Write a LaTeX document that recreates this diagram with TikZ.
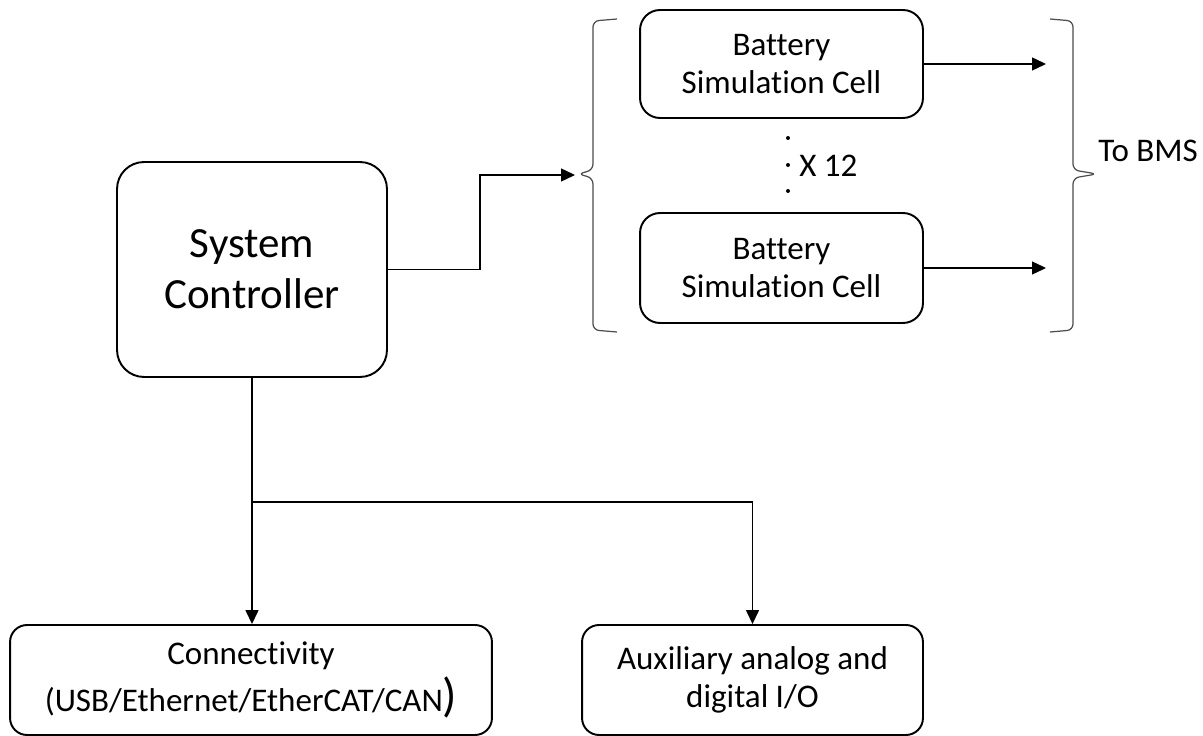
\documentclass[tikz,border=0pt]{standalone}
\usepackage{fontspec}
\setmainfont{Carlito}[Ligatures={NoCommon}]
\usetikzlibrary{arrows.meta}
\newcommand{\ctrlfont}{\fontsize{24.5}{29}\selectfont}
\newcommand{\cellfont}{\fontsize{18.8}{21.6}\selectfont}
\newcommand{\dotradius}{0.04cm}
\tikzset{
    block/.style={draw, line width=1.1pt, align=center, inner sep=0pt, font=\cellfont},
    arr/.style={line width=0.8pt, -{Triangle[length=0.28cm, width=0.26cm]}},
    brace/.style={line width=0.7pt, black!70, rounded corners=0.12cm},
}

\begin{document}
\begin{tikzpicture}[x=0.02cm, y=-0.02cm]
\useasboundingbox (0,0) rectangle (1203,736);

% blocks
\node[block, rounded corners=0.54cm, minimum width=5.4cm, minimum height=4.3cm, font=\ctrlfont]
    (sc) at (252, 269.5) {System\\Controller};
\node[block, rounded corners=0.4cm, minimum width=5.66cm, minimum height=2.16cm]
    (cellA) at (781.5, 64) {Battery\\Simulation Cell};
\node[block, rounded corners=0.4cm, minimum width=5.66cm, minimum height=2.2cm]
    (cellB) at (781.5, 268) {Battery\\Simulation Cell};
\node[block, rounded corners=0.34cm, minimum width=9.64cm, minimum height=2.2cm]
    (conn) at (251, 680) {Connectivity\\[3pt](USB/Ethernet/EtherCAT/CAN{\fontsize{27}{27}\selectfont)}};
\node[block, rounded corners=0.34cm, minimum width=6.82cm, minimum height=2.2cm]
    (aux) at (752.5, 680) {Auxiliary analog and\\digital I/O};

% labels
\node[font=\cellfont, anchor=base west, inner sep=0pt] (times) at (799, 177) {X 12};
\node[font=\cellfont, anchor=base west, inner sep=0pt] (bms) at (1098, 162) {To BMS};

% helper coordinates
\coordinate (split) at (480, 175);
\coordinate (lin) at (575, 175);
\coordinate (out) at (1046, 0);
\coordinate (junc) at (0, 502);

% braces
\draw[brace] (617,19) -- (593,21) -- (593,170) -- (578,174) -- (593,178) -- (593,330) -- (617,332);
\draw[brace] (1050,19) -- (1073,21) -- (1073,170) -- (1097,174) -- (1073,178) -- (1073,330) -- (1050,332);

% dots between the cells
\foreach \y in {138, 165, 191}
    \fill (788, \y) circle (\dotradius);

% connectors
\draw[arr] (sc.east) -| (split) -- (lin);
\foreach \c in {cellA, cellB}
    \draw[arr] (\c.east) -- (\c.east -| out);
\draw[arr] (sc.south) -- (sc.south |- conn.north);
\draw[arr] (sc.south |- junc) -| (aux.north);

\end{tikzpicture}
\end{document}
